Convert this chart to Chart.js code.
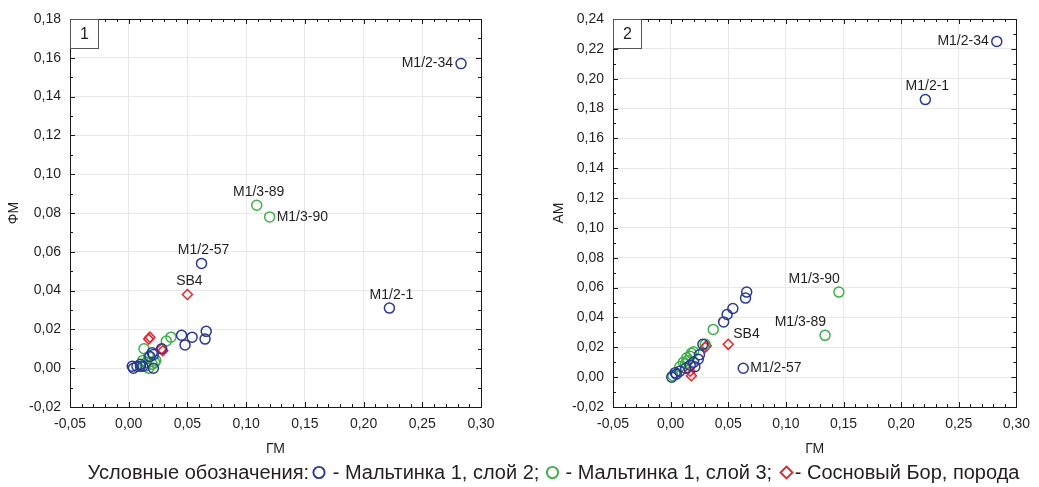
<!DOCTYPE html>
<html>
<head>
<meta charset="utf-8">
<script src="https://cdn.jsdelivr.net/npm/chart.js@4.4.0/dist/chart.umd.min.js"></script>
<style>
  body { margin: 0; background: #fff; width: 1039px; height: 487px; position: relative; overflow: hidden;
         font-family: "Liberation Sans", Arial, sans-serif; }
  #wrap1 { position: absolute; left: 0; top: 0; width: 520px; height: 465px; }
  #wrap2 { position: absolute; left: 540px; top: 0; width: 499px; height: 465px; }
  #legend { position: absolute; left: 0; top: 461px; width: 1039px; padding-left: 68px; box-sizing: border-box;
            text-align: center; font-size: 20px; color: #231f20; white-space: nowrap; }
  #legend svg { vertical-align: -1px; }
</style>
</head>
<body>
<div id="wrap1"><canvas id="chart1"></canvas></div>
<div id="wrap2"><canvas id="chart2"></canvas></div>
<div id="legend">Условные обозначения:<svg width="18" height="15"><circle cx="10" cy="7.5" r="5.6" fill="none" stroke="#2b3990" stroke-width="1.9"/></svg> - Мальтинка 1, слой 2; <svg width="15" height="15"><circle cx="7.5" cy="7.5" r="5.6" fill="none" stroke="#3fae49" stroke-width="1.9"/></svg> - Мальтинка 1, слой 3; <svg width="17" height="15"><path d="M8.5 1.5 L14.5 7.5 L8.5 13.5 L2.5 7.5 Z" fill="none" stroke="#e8232a" stroke-width="1.9"/></svg>- Сосновый Бор, порода</div>
<script>
// ---- chart 1: ГМ / ФМ ----
const fig1Layer2X = [0.283, 0.222, 0.062, 0.045, 0.054, 0.048, 0.066, 0.065, 0.028, 0.020, 0.018, 0.021, 0.004, 0.007, 0.010, 0.012, 0.021, 0.003, 0.010];
const fig1Layer2Y = [0.157, 0.031, 0.054, 0.017, 0.016, 0.012, 0.019, 0.015, 0.010, 0.008, 0.006, 0.007, 0.000, 0.001, 0.002, 0.001, 0.000, 0.001, 0.001];
const fig1Layer2Names = ['M1/2-34', 'M1/2-1', 'M1/2-57'];

const fig1Layer3X = [0.109, 0.120, 0.032, 0.036, 0.013, 0.012, 0.015, 0.020, 0.022, 0.017, 0.014, 0.017, 0.023];
const fig1Layer3Y = [0.084, 0.078, 0.014, 0.016, 0.010, 0.004, 0.003, 0.002, 0.003, 0.000, 0.001, 0.006, 0.004];
const fig1Layer3Names = ['M1/3-89', 'M1/3-90'];

const fig1RockX = [0.050, 0.017, 0.018, 0.029, 0.028];
const fig1RockY = [0.038, 0.015, 0.016, 0.009, 0.010];
const fig1RockNames = ['SB4'];

// ---- chart 2: ГМ / АМ ----
const fig2Layer2X = [0.283, 0.221, 0.063, 0.066, 0.065, 0.054, 0.049, 0.046, 0.028, 0.001, 0.005, 0.008, 0.013, 0.020, 0.021, 0.025, 0.024, 0.004, 0.017];
const fig2Layer2Y = [0.225, 0.186, 0.006, 0.057, 0.053, 0.046, 0.042, 0.037, 0.022, 0.000, 0.002, 0.004, 0.006, 0.010, 0.007, 0.015, 0.012, 0.003, 0.008];
const fig2Layer2Names = ['M1/2-34', 'M1/2-1', 'M1/2-57'];

const fig2Layer3X = [0.146, 0.134, 0.037, 0.030, 0.002, 0.008, 0.011, 0.014, 0.017, 0.013, 0.018, 0.020, 0.015];
const fig2Layer3Y = [0.057, 0.028, 0.032, 0.022, 0.001, 0.007, 0.010, 0.013, 0.014, 0.009, 0.016, 0.017, 0.011];
const fig2Layer3Names = ['M1/3-90', 'M1/3-89'];

const fig2RockX = [0.050, 0.030, 0.031, 0.017, 0.018];
const fig2RockY = [0.022, 0.020, 0.021, 0.004, 0.001];
const fig2RockNames = ['SB4'];

const seriesLabels = ['Мальтинка 1, слой 2', 'Мальтинка 1, слой 3', 'Сосновый Бор, порода'];

const BLUE = '#2b3990', GREEN = '#3fae49', RED = '#e8232a', INK = '#231f20';
const FONT = '"Liberation Sans", Arial, sans-serif';

function pts(xs, ys) {
    return xs.map((x, i) => ({ x: x, y: ys[i] }));
}

function fmt(v) {
    return (Math.round(v * 100) / 100).toFixed(2).replace('.', ',');
}

// where each point label sits relative to its marker
function labelPos(kind, p) {
    switch (kind) {
        case 'left':       return { x: p.x - 8, y: p.y, align: 'right' };
        case 'right':      return { x: p.x + 7, y: p.y, align: 'left' };
        case 'aboveLeft':  return { x: p.x + 1, y: p.y - 13, align: 'right' };
        case 'aboveRight': return { x: p.x + 5, y: p.y - 10, align: 'left' };
        default:           return { x: p.x + 2, y: p.y - 13, align: 'center' };
    }
}

const pointLabels = {
    id: 'pointLabels',
    afterDatasetsDraw(chart, args, opts) {
        const ctx = chart.ctx;
        ctx.save();
        ctx.font = '14px ' + FONT;
        ctx.fillStyle = INK;
        ctx.textBaseline = 'middle';
        chart.data.datasets.forEach((ds, i) => {
            const meta = chart.getDatasetMeta(i);
            (ds.names || []).forEach((name, j) => {
                if (!name) return;
                const el = meta.data[j];
                const pos = labelPos(opts.placement[name], el);
                ctx.textAlign = pos.align;
                ctx.fillText(name, pos.x, pos.y);
            });
        });
        ctx.restore();
    }
};

const frame = {
    id: 'frame',
    afterDraw(chart, args, opts) {
        const { ctx, chartArea: a, scales } = chart;
        ctx.save();
        ctx.strokeStyle = '#1a1a1a';
        ctx.lineWidth = 1;
        // small inward ticks on all four sides
        const drawTicks = (scale, step, majorEvery, horiz) => {
            const n = Math.round((scale.max - scale.min) / step);
            for (let i = 0; i <= n; i++) {
                const v = scale.min + i * step;
                const p = Math.round(scale.getPixelForValue(v)) + 0.5;
                const len = i % majorEvery === 0 ? 5 : 3;
                ctx.beginPath();
                if (horiz) {
                    ctx.moveTo(p, a.bottom); ctx.lineTo(p, a.bottom - len);
                    ctx.moveTo(p, a.top); ctx.lineTo(p, a.top + len);
                } else {
                    ctx.moveTo(a.left, p); ctx.lineTo(a.left + len, p);
                    ctx.moveTo(a.right, p); ctx.lineTo(a.right - len, p);
                }
                ctx.stroke();
            }
        };
        drawTicks(scales.x, 0.01, 5, true);
        drawTicks(scales.y, 0.01, 2, false);
        ctx.strokeRect(Math.round(a.left) + 0.5, Math.round(a.top) + 0.5,
                       Math.round(a.right - a.left), Math.round(a.bottom - a.top));
        // panel number box
        const bx = Math.round(a.left) + 0.5, by = Math.round(a.top) + 0.5;
        ctx.fillStyle = '#fff';
        ctx.fillRect(bx, by, 28, 29);
        ctx.strokeStyle = '#555';
        ctx.strokeRect(bx, by, 28, 29);
        ctx.fillStyle = INK;
        ctx.font = '16px ' + FONT;
        ctx.textAlign = 'center';
        ctx.textBaseline = 'middle';
        ctx.fillText(opts.panel, bx + 14, by + 15);
        ctx.restore();
    }
};

function makeChart(id, cfg) {
    const ctx = document.getElementById(id).getContext('2d');
    const common = { showLine: false, backgroundColor: 'rgba(0,0,0,0)', borderWidth: 1.5 };
    return new Chart(ctx, {
        type: 'scatter',
        data: {
            datasets: [
                Object.assign({}, common, { label: seriesLabels[0], data: cfg.blue, names: cfg.blueNames,
                    borderColor: BLUE, pointStyle: 'circle', pointRadius: 5 }),
                Object.assign({}, common, { label: seriesLabels[1], data: cfg.green, names: cfg.greenNames,
                    borderColor: GREEN, pointStyle: 'circle', pointRadius: 5 }),
                Object.assign({}, common, { label: seriesLabels[2], data: cfg.red, names: cfg.redNames,
                    borderColor: RED, pointStyle: 'rectRot', pointRadius: 5 })
            ]
        },
        options: {
            responsive: true,
            maintainAspectRatio: false,
            animation: false,
            layout: { padding: { top: 19, right: cfg.padRight, bottom: 0, left: 0 } },
            plugins: {
                legend: { display: false },
                tooltip: { enabled: false },
                pointLabels: { placement: cfg.placement },
                frame: { panel: cfg.panel }
            },
            scales: {
                x: {
                    type: 'linear', min: -0.05, max: 0.30,
                    afterFit: s => { s.height = 58; },
                    grid: { color: '#e8e8e8', drawTicks: false },
                    border: { display: false },
                    ticks: { stepSize: 0.05, padding: 9, color: INK, font: { family: FONT, size: 14 }, callback: fmt },
                    title: { display: true, text: 'ГМ', color: INK, font: { family: FONT, size: 14 }, padding: { bottom: 7 } }
                },
                y: {
                    type: 'linear', min: -0.02, max: cfg.yMax,
                    afterFit: s => { s.width = cfg.yWidth; },
                    grid: { color: '#e8e8e8', drawTicks: false },
                    border: { display: false },
                    ticks: { stepSize: 0.02, padding: 9, color: INK, font: { family: FONT, size: 14 }, callback: fmt },
                    title: { display: true, text: cfg.yTitle, color: INK, font: { family: FONT, size: 14 }, padding: { top: cfg.yTitlePad } }
                }
            }
        },
        plugins: [pointLabels, frame]
    });
}

makeChart('chart1', {
    panel: '1', yTitle: 'ФМ', yMax: 0.18, yWidth: 70, yTitlePad: 6, padRight: 39,
    blue: pts(fig1Layer2X, fig1Layer2Y), blueNames: fig1Layer2Names,
    green: pts(fig1Layer3X, fig1Layer3Y), greenNames: fig1Layer3Names,
    red: pts(fig1RockX, fig1RockY), redNames: fig1RockNames,
    placement: { 'M1/2-34': 'left', 'M1/2-1': 'above', 'M1/2-57': 'above', 'M1/3-89': 'above', 'M1/3-90': 'right', 'SB4': 'above' }
});

makeChart('chart2', {
    panel: '2', yTitle: 'АМ', yMax: 0.24, yWidth: 73, yTitlePad: 11, padRight: 14,
    blue: pts(fig2Layer2X, fig2Layer2Y), blueNames: fig2Layer2Names,
    green: pts(fig2Layer3X, fig2Layer3Y), greenNames: fig2Layer3Names,
    red: pts(fig2RockX, fig2RockY), redNames: fig2RockNames,
    placement: { 'M1/2-34': 'left', 'M1/2-1': 'above', 'M1/2-57': 'right', 'M1/3-89': 'aboveLeft', 'M1/3-90': 'aboveLeft', 'SB4': 'aboveRight' }
});
</script>
</body>
</html>
